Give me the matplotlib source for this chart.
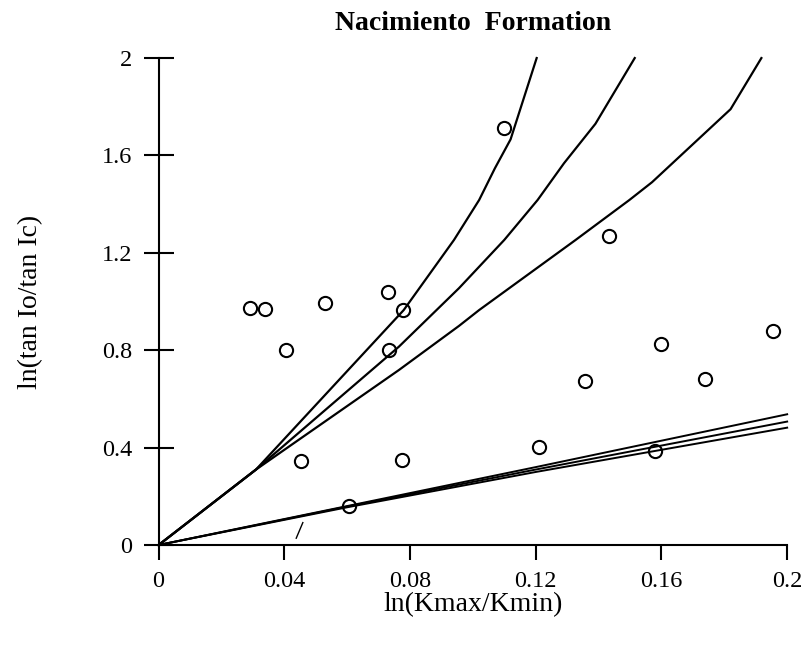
import matplotlib.pyplot as plt

# data
obs_x = [0.029, 0.034, 0.0405, 0.0454, 0.0531, 0.0605, 0.0729, 0.0732, 0.0779,
         0.0775, 0.110, 0.1211, 0.1357, 0.1432, 0.1581, 0.1598, 0.1739, 0.1954]
obs_y = [0.975, 0.971, 0.80, 0.346, 0.993, 0.160, 1.04, 0.80, 0.964,
         0.349, 1.714, 0.404, 0.674, 1.271, 0.386, 0.824, 0.682, 0.879]

# upper model curves
c1_x = [0, 0.031, 0.078, 0.094, 0.102, 0.107, 0.112, 0.1203]
c1_y = [0, 0.31, 0.965, 1.253, 1.417, 1.547, 1.666, 2.0]
c2_x = [0, 0.031, 0.0765, 0.0956, 0.110, 0.1206, 0.129, 0.139, 0.1515]
c2_y = [0, 0.31, 0.815, 1.055, 1.253, 1.417, 1.568, 1.73, 2.0]
c3_x = [0, 0.031, 0.0765, 0.0956, 0.102, 0.1327, 0.1498, 0.157, 0.182, 0.1918]
c3_y = [0, 0.31, 0.719, 0.90, 0.965, 1.253, 1.417, 1.49, 1.79, 2.0]

# lower model lines
low_x = [0, 0.06, 0.12, 0.2]
low_a = [0, 0.160, 0.320, 0.537]
low_b = [0, 0.158, 0.310, 0.507]
low_c = [0, 0.155, 0.300, 0.482]

xticks = [0, 0.04, 0.08, 0.12, 0.16, 0.2]
xlabels = ['0', '0.04', '0.08', '0.12', '0.16', '0.2']
yticks = [0, 0.4, 0.8, 1.2, 1.6, 2]
ylabels = ['0', '0.4', '0.8', '1.2', '1.6', '2']

plt.rcParams['font.family'] = ['Liberation Serif', 'DejaVu Serif']

fig = plt.figure(figsize=(8.09, 6.45), dpi=100)
ax = fig.add_axes([0.196, 0.155, 0.777, 0.755])

for xs, ys in [(c1_x, c1_y), (c2_x, c2_y), (c3_x, c3_y)]:
    ax.plot(xs, ys, color='black', lw=1.6, clip_on=False)
for ys in [low_a, low_b, low_c]:
    ax.plot(low_x, ys, color='black', lw=1.4, clip_on=False)

ax.plot(obs_x, obs_y, 'o', mfc='none', mec='black', ms=9.5, mew=1.5, clip_on=False)

# small stray mark from the scan
ax.plot([0.0459, 0.0438], [0.092, 0.028], color='black', lw=1)

ax.set_xlim(0, 0.2)
ax.set_ylim(0, 2)
ax.set_xticks(xticks)
ax.set_xticklabels(xlabels)
ax.set_yticks(yticks)
ax.set_yticklabels(ylabels)

for s in ['top', 'right']:
    ax.spines[s].set_visible(False)
for s in ['left', 'bottom']:
    ax.spines[s].set_linewidth(1.5)

ax.tick_params(axis='y', direction='inout', length=22, width=1.5, labelsize=17.5, pad=8)
ax.tick_params(axis='x', direction='out', length=11, width=1.5, labelsize=17.5, pad=8)

ax.set_xlabel('ln(Kmax/Kmin)', fontsize=20, labelpad=0)
ax.set_ylabel('ln(tan Io/tan Ic)', fontsize=20, labelpad=42)
ax.set_title('Nacimiento  Formation', fontsize=20, fontweight='bold', pad=20)

fig.savefig('out.png', dpi=100)
